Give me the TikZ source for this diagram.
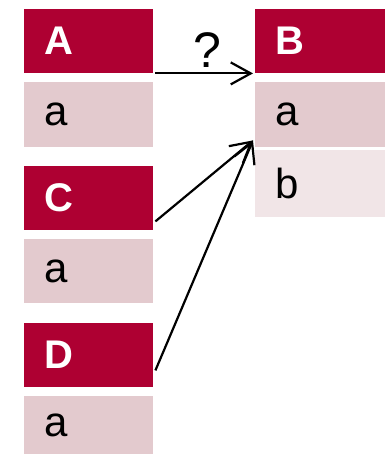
\documentclass[tikz,border=0pt]{standalone}
\usepackage{fontspec}
\setmainfont{Liberation Sans}
\usetikzlibrary{arrows.meta,calc}
\definecolor{hdrred}{RGB}{174,0,50}
\definecolor{rowpink}{RGB}{227,202,206}
\definecolor{rowlight}{RGB}{241,229,231}
\tikzset{
  cell/.style={anchor=north west, inner xsep=20pt, inner ysep=0pt, text width=89pt,
    align=left, minimum height=64pt, draw=none},
  hdr/.style={cell, fill=hdrred, text=white, font=\bfseries\fontsize{40}{42}\selectfont},
  row/.style={cell, fill=rowpink, text=black, font=\fontsize{42}{44}\selectfont},
  rowb/.style={cell, fill=rowlight, text=black, font=\fontsize{42}{44}\selectfont},
  arr/.style={draw=black, line width=2.2pt, -{Straight Barb[length=20pt,width=22pt]}}
}
\begin{document}
\begin{tikzpicture}[x=1pt,y=-1pt]
\useasboundingbox (0,0) rectangle (387,454);
% left column
\node[hdr] (A) at (24,9) {A};
\node[row, minimum height=65pt] (Aa) at (24,82) {a};
\node[hdr] (C) at (24,166) {C};
\node[row] (Ca) at (24,239) {a};
\node[hdr] (D) at (24,323) {D};
\node[row, minimum height=58pt] (Da) at (24,396) {a};
% right column
\node[hdr, text width=90pt] (B) at (255,9) {B};
\node[row, text width=90pt, minimum height=65pt] (Ba) at (255,82) {a};
\node[rowb, text width=90pt, minimum height=67pt] (Bb) at (255,150) {b};
% connectors
\coordinate (tgt) at ($(Ba.south west)+(-2,-7)$);
\coordinate (srcA) at ($(A.south east)+(2,0)$);
\coordinate (tgtA) at ($(B.south west)+(-2,0)$);
\coordinate (srcC) at ($(C.south east)+(2,-9)$);
\coordinate (srcD) at ($(D.south east)+(2,-17)$);
\draw[arr] (srcA) -- node[above=5pt, xshift=3pt, font=\fontsize{50}{52}\selectfont, inner sep=0pt] (q) {?} (tgtA);
\draw[arr] (srcC) -- (tgt);
\draw[arr] (srcD) -- (tgt);
\end{tikzpicture}
\end{document}
